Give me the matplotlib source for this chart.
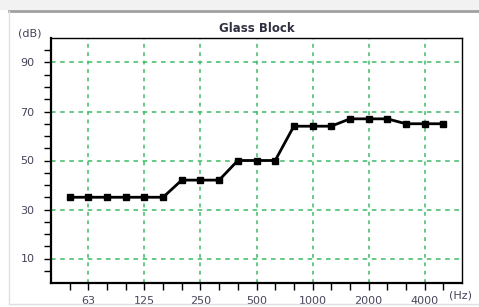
import numpy as np
import matplotlib.pyplot as plt
from matplotlib.lines import Line2D
from matplotlib.patches import Rectangle

# 1/3 octave bands (Hz) and sound reduction (dB)
bands = ['50', '63', '80', '100', '125', '160', '200', '250', '315', '400', '500',
         '630', '800', '1000', '1250', '1600', '2000', '2500', '3150', '4000', '5000']
values = [35, 35, 35, 35, 35, 35, 42, 42, 42, 50, 50,
          50, 64, 64, 64, 67, 67, 67, 65, 65, 65]
labelled = ['63', '125', '250', '500', '1000', '2000', '4000']
ylabels = [10, 30, 50, 70, 90]

txt = '#44445a'
green = '#3dba66'

fig = plt.figure(figsize=(4.79, 3.07), dpi=100)
# window frame
fig.patches.append(Rectangle((0, 1 - 10/307), 1, 10/307, transform=fig.transFigure,
                             facecolor='#f2f2f2', edgecolor='none'))
fig.lines.append(Line2D([9/479, 1], [1 - 11/307] * 2, transform=fig.transFigure,
                        color='#a0a0a0', lw=2))
fig.lines.append(Line2D([9/479] * 2, [1 - 11/307, 1 - 304/307], transform=fig.transFigure,
                        color='#e0e0e0', lw=1))
fig.lines.append(Line2D([9/479, 1], [1 - 304/307] * 2, transform=fig.transFigure,
                        color='#e0e0e0', lw=1))

ax = fig.add_axes([51/479, 1 - 283/307, 411/479, 245/307])
x = np.arange(len(bands))
ax.plot(x, values, color='black', lw=2, marker='s', ms=5, zorder=3)

ax.set_xlim(-1, len(bands))
ax.set_ylim(0, 100)

pos = [bands.index(b) for b in labelled]
ax.set_xticks(x, minor=True)
ax.set_xticks(pos)
ax.set_xticklabels(labelled)
ax.set_yticks(np.arange(5, 100, 5), minor=True)
ax.set_yticks(ylabels)

ax.tick_params(which='both', direction='out', color='black', width=1.0, length=5)
ax.tick_params(which='major', labelsize=8, labelcolor=txt)
ax.tick_params(axis='y', pad=7)
ax.tick_params(axis='x', pad=4)

for v in ylabels:
    ax.axhline(v, color=green, lw=1.1, ls=(0, (3, 3)), zorder=1)
for p in pos:
    ax.axvline(p, color=green, lw=1.1, ls=(0, (2.5, 3)), zorder=1)

for s in ['left', 'bottom']:
    ax.spines[s].set_linewidth(1.6)
for s in ['top', 'right']:
    ax.spines[s].set_linewidth(1.0)

ax.set_title('Glass Block', fontsize=8.5, fontweight='bold', color='#303040', pad=4)
fig.text(30/479, 1 - 34/307, '(dB)', fontsize=8, color=txt, ha='center', va='center')
fig.text(460/479, 1 - 295/307, '(Hz)', fontsize=8, color=txt, ha='center', va='center')

fig.savefig('out.png', dpi=100)
